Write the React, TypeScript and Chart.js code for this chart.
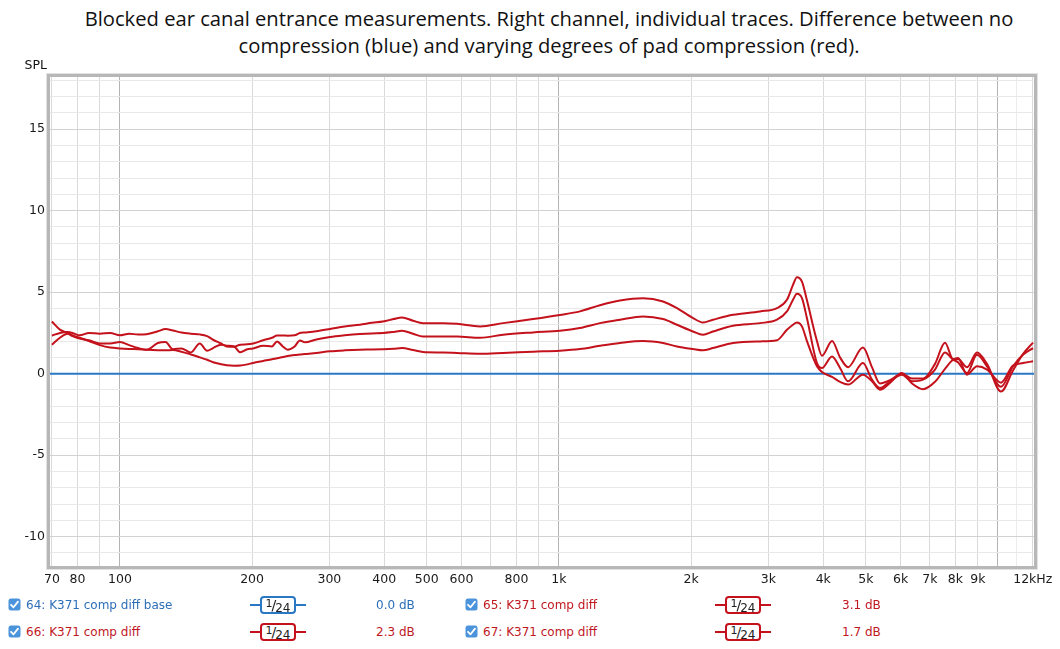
import React, { useEffect, useRef } from 'react';
import { Chart, registerables } from 'chart.js';

Chart.register(...registerables);

const TITLE_LINES = [
  'Blocked ear canal entrance measurements. Right channel, individual traces. Difference between no',
  'compression (blue) and varying degrees of pad compression (red).',
];

// Frequency grid (Hz) shared by the three red traces
const FREQS = [
  70, 73, 76, 78, 81, 85, 90, 95, 100, 105,
  110, 115, 122, 127, 132, 138, 145, 152, 158, 163,
  170, 175, 182, 188, 195, 201, 212, 222, 228, 235,
  241, 250, 257, 264, 280, 301, 325, 352, 375, 397,
  420, 439, 465, 490, 545, 586, 661, 746, 873, 1005,
  1116, 1240, 1377, 1554, 1726, 1857, 2020, 2128, 2243, 2492,
  2871, 3138, 3306, 3413, 3484, 3577, 3672, 3870, 3973, 4188,
  4368, 4555, 4926, 5164, 5385, 5675, 6043, 6371, 6750, 7187,
  7574, 7899, 8109, 8501, 8959, 9441, 10160, 10820, 11400, 12020,
];

// 65: K371 comp diff (3.1 dB)
const TRACE_65 = [
  2.33, 2.5, 2.55, 2.5, 2.35, 2.5, 2.45, 2.5, 2.35, 2.45,
  2.4, 2.42, 2.6, 2.74, 2.65, 2.52, 2.45, 2.41, 2.3, 2.08,
  1.85, 1.67, 1.65, 1.78, 1.8, 1.85, 2.05, 2.2, 2.34, 2.34,
  2.33, 2.35, 2.5, 2.53, 2.6, 2.74, 2.9, 3.0, 3.12, 3.2,
  3.35, 3.45, 3.25, 3.1, 3.1, 3.06, 2.9, 3.1, 3.35, 3.6,
  3.82, 4.2, 4.49, 4.63, 4.43, 4.02, 3.41, 3.14, 3.31, 3.61,
  3.82, 4.02, 4.53, 5.45, 5.92, 5.65, 4.5, 2.0, 1.1, 2.0,
  1.0, 0.4, 1.6, 0.4, -0.6, -0.4, 0.0, -0.3, -0.3, 0.6,
  1.9, 0.9, 0.9, 0.4, 1.3, 0.6, -1.1, 0.2, 1.2, 1.9,
];

// 66: K371 comp diff (2.3 dB)
const TRACE_66 = [
  1.78, 2.2, 2.45, 2.3, 2.15, 2.05, 1.85, 1.85, 1.94, 1.75,
  1.57, 1.47, 1.88, 1.94, 1.5, 1.55, 1.3, 1.85, 1.4, 1.57,
  1.78, 1.72, 1.67, 1.31, 1.5, 1.55, 1.71, 1.67, 1.98, 1.67,
  1.47, 1.67, 2.04, 1.92, 2.1, 2.25, 2.35, 2.43, 2.47, 2.49,
  2.56, 2.63, 2.45, 2.28, 2.28, 2.28, 2.2, 2.39, 2.53, 2.63,
  2.8, 3.1, 3.31, 3.51, 3.35, 3.0, 2.59, 2.39, 2.59, 2.94,
  3.1, 3.31, 3.82, 4.53, 4.9, 4.63, 3.4, 0.65, 0.35, 1.06,
  0.35, -0.47, 0.65, -0.37, -0.88, -0.47, -0.06, -0.47, -0.37, 0.25,
  1.3, 0.86, 0.7, 0.04, 1.16, 0.45, -0.8, 0.45, 1.16, 1.57,
];

// 67: K371 comp diff (1.7 dB)
const TRACE_67 = [
  3.2, 2.7, 2.5, 2.35, 2.2, 2.0, 1.75, 1.6, 1.55, 1.52,
  1.5, 1.47, 1.44, 1.43, 1.45, 1.35, 1.18, 1.0, 0.85, 0.7,
  0.58, 0.52, 0.49, 0.5, 0.57, 0.66, 0.78, 0.88, 0.95, 1.02,
  1.08, 1.14, 1.17, 1.2, 1.27, 1.37, 1.43, 1.47, 1.48, 1.5,
  1.53, 1.57, 1.45, 1.33, 1.3, 1.27, 1.22, 1.27, 1.35, 1.41,
  1.51, 1.71, 1.88, 2.0, 1.88, 1.67, 1.51, 1.43, 1.57, 1.88,
  1.98, 2.05, 2.69, 3.0, 3.14, 2.9, 2.0, 0.45, 0.1, -0.2,
  -0.5, -0.67, -0.06, -0.47, -0.98, -0.57, 0.04, -0.6, -0.95, -0.5,
  0.3, 0.85, 0.96, -0.06, 0.45, 0.25, -0.55, 0.5, 0.65, 0.76,
];

// 64: K371 comp diff base (0.0 dB)
const BASE_FREQS = [69.3, 12080];
const BASE_64 = [0, 0];

const X_MIN = 69.3;
const X_MAX = 12080;
const Y_MIN = -11.8;
const Y_MAX = 18.2;

const X_TICKS = [70, 80, 90, 100, 200, 300, 400, 500, 600, 700, 800, 900, 1000, 2000, 3000, 4000, 5000, 6000, 7000, 8000, 9000, 10000, 11000, 12000];
const X_TICK_LABELS: Record<number, string> = {
  70: '70', 80: '80', 100: '100', 200: '200', 300: '300', 400: '400', 500: '500', 600: '600', 800: '800',
  1000: '1k', 2000: '2k', 3000: '3k', 4000: '4k', 5000: '5k', 6000: '6k', 7000: '7k', 8000: '8k', 9000: '9k', 12000: '12kHz',
};
const Y_TICKS = [-11, -10, -9, -8, -7, -6, -5, -4, -3, -2, -1, 0, 1, 2, 3, 4, 5, 6, 7, 8, 9, 10, 11, 12, 13, 14, 15, 16, 17, 18];

const LEGEND_NAMES = ['64: K371 comp diff base', '65: K371 comp diff', '66: K371 comp diff', '67: K371 comp diff'];
const LEGEND_VALUES = ['0.0 dB', '3.1 dB', '2.3 dB', '1.7 dB'];

const RED = '#c4121c';
const BLUE = '#2a78c4';
const RED_TEXT = '#c0181f';
const BLUE_TEXT = '#2d6fb7';

const FONT = '"DejaVu Sans", Verdana, sans-serif';

const framePlugin = {
  id: 'frame',
  afterDraw(chart: any) {
    const { ctx, chartArea: a } = chart;
    ctx.save();
    ctx.strokeStyle = '#e2e2e2';
    ctx.lineWidth = 1;
    ctx.strokeRect(a.left - 3.5, a.top - 3.5, a.right - a.left + 7, a.bottom - a.top + 7);
    ctx.strokeStyle = '#b7b7b7';
    ctx.lineWidth = 3;
    ctx.strokeRect(a.left - 1.5, a.top - 1.5, a.right - a.left + 3, a.bottom - a.top + 3);
    ctx.fillStyle = '#111';
    ctx.font = '12.5px ' + FONT;
    ctx.textAlign = 'right';
    ctx.textBaseline = 'middle';
    ctx.fillText('SPL', 47, 66);
    ctx.restore();
  },
};

function CheckBox() {
  return (
    <svg width={13} height={13} style={{ display: 'block' }}>
      <rect x={0.5} y={0.5} width={12} height={12} rx={2.5} fill="#4b94dc" />
      <path d="M3 6.8 L5.5 9.3 L10 3.6" stroke="#fff" strokeWidth={1.8} fill="none" strokeLinecap="round" strokeLinejoin="round" />
    </svg>
  );
}

function Badge({ color }: { color: string }) {
  return (
    <div style={{ position: 'relative', width: 56, height: 18 }}>
      <div style={{ position: 'absolute', left: 0, top: 8, width: 56, height: 2, background: color }} />
      <div
        style={{
          position: 'absolute', left: 10, top: 0, width: 36, height: 18, boxSizing: 'border-box', border: `2px solid ${color}`, borderRadius: 4,
          background: '#fff', color: '#222', fontFamily: FONT, fontSize: 12, lineHeight: '14px', textAlign: 'center', whiteSpace: 'nowrap',
        }}
      >
        <span style={{ position: 'relative', top: -3, fontSize: 11 }}>1</span>
        <span style={{ fontSize: 14, margin: '0 -1px' }}>/</span>
        <span style={{ position: 'relative', top: 2, fontSize: 12 }}>24</span>
      </div>
    </div>
  );
}

function LegendRow({ idx, x, badgeX, valueX, y }: { idx: number; x: number; badgeX: number; valueX: number; y: number }) {
  const color = idx === 0 ? BLUE_TEXT : RED_TEXT;
  const lineColor = idx === 0 ? BLUE : RED;
  const textStyle = { position: 'absolute' as const, top: y - 9, fontFamily: FONT, fontSize: 12, lineHeight: '18px', color, whiteSpace: 'nowrap' as const };
  return (
    <>
      <div style={{ position: 'absolute', left: x, top: y - 7 }}>
        <CheckBox />
      </div>
      <div style={{ ...textStyle, left: x + 18 }}>{LEGEND_NAMES[idx]}</div>
      <div style={{ position: 'absolute', left: badgeX, top: y - 9 }}>
        <Badge color={lineColor} />
      </div>
      <div style={{ ...textStyle, left: valueX }}>{LEGEND_VALUES[idx]}</div>
    </>
  );
}

export default function App() {
  const canvasRef = useRef<HTMLCanvasElement | null>(null);

  useEffect(() => {
    if (!canvasRef.current) return;
    const mk = (vals: number[]) => FREQS.map((f, i) => ({ x: f, y: vals[i] }));
    const redLine = (label: string, vals: number[]) => ({
      label,
      data: mk(vals),
      borderColor: RED,
      borderWidth: 2,
      pointRadius: 0,
      fill: false,
      cubicInterpolationMode: 'monotone' as const,
    });
    const chart = new Chart(canvasRef.current, {
      type: 'line',
      data: {
        datasets: [
          redLine(LEGEND_NAMES[1], TRACE_65),
          redLine(LEGEND_NAMES[2], TRACE_66),
          redLine(LEGEND_NAMES[3], TRACE_67),
          {
            label: LEGEND_NAMES[0],
            data: BASE_FREQS.map((f, i) => ({ x: f, y: BASE_64[i] })),
            borderColor: BLUE,
            borderWidth: 2,
            pointRadius: 0,
            fill: false,
          },
        ],
      },
      options: {
        animation: false,
        responsive: false,
        devicePixelRatio: 1,
        layout: { padding: { top: 77, right: 26, left: 0, bottom: 0 } },
        plugins: { legend: { display: false }, tooltip: { enabled: false }, title: { display: false } },
        scales: {
          x: {
            type: 'logarithmic',
            min: X_MIN,
            max: X_MAX,
            afterBuildTicks: (s: any) => { s.ticks = X_TICKS.map((v) => ({ value: v })); },
            afterFit: (s: any) => { s.height = 34; },
            ticks: {
              autoSkip: false,
              maxRotation: 0,
              minRotation: 0,
              padding: 6,
              color: '#1a1a1a',
              font: { family: FONT, size: 12.5 },
              callback: (v: any) => X_TICK_LABELS[Number(v)] ?? '',
            },
            grid: {
              drawTicks: false,
              color: (ctx: any) => {
                const v = ctx.tick ? ctx.tick.value : 0;
                if (v === 100 || v === 1000 || v === 10000) return '#b4b4b4';
                if (v === 11000) return '#ececec';
                return '#dadada';
              },
            },
            border: { display: false },
          },
          y: {
            type: 'linear',
            min: Y_MIN,
            max: Y_MAX,
            afterBuildTicks: (s: any) => { s.ticks = Y_TICKS.map((v) => ({ value: v })); },
            afterFit: (s: any) => { s.width = 50; },
            ticks: {
              autoSkip: false,
              padding: 5,
              color: '#1a1a1a',
              font: { family: FONT, size: 12.5 },
              callback: (v: any) => (Number(v) % 5 === 0 ? String(v) : ''),
            },
            grid: {
              drawTicks: false,
              color: (ctx: any) => {
                const v = ctx.tick ? ctx.tick.value : 0;
                return v % 5 === 0 ? '#d2d2d2' : '#e8e8e8';
              },
            },
            border: { display: false },
          },
        },
      },
      plugins: [framePlugin],
    } as any);
    return () => chart.destroy();
  }, []);

  return (
    <div style={{ position: 'absolute', left: 0, top: 0, width: 1060, height: 649, background: '#fff', overflow: 'hidden' }}>
      <div
        style={{
          position: 'absolute', left: 19, top: 5, width: 1060, textAlign: 'center', fontFamily: '"Open Sans", sans-serif',
          fontSize: 20.2, lineHeight: '27px', color: '#111',
        }}
      >
        {TITLE_LINES.map((t, i) => (
          <div key={i}>{t}</div>
        ))}
      </div>
      <canvas ref={canvasRef} width={1060} height={600} style={{ position: 'absolute', left: 0, top: 0, width: 1060, height: 600 }} />
      <LegendRow idx={0} x={8} badgeX={250} valueX={376} y={605} />
      <LegendRow idx={1} x={465} badgeX={715} valueX={842} y={605} />
      <LegendRow idx={2} x={8} badgeX={250} valueX={376} y={632} />
      <LegendRow idx={3} x={465} badgeX={715} valueX={842} y={632} />
    </div>
  );
}
